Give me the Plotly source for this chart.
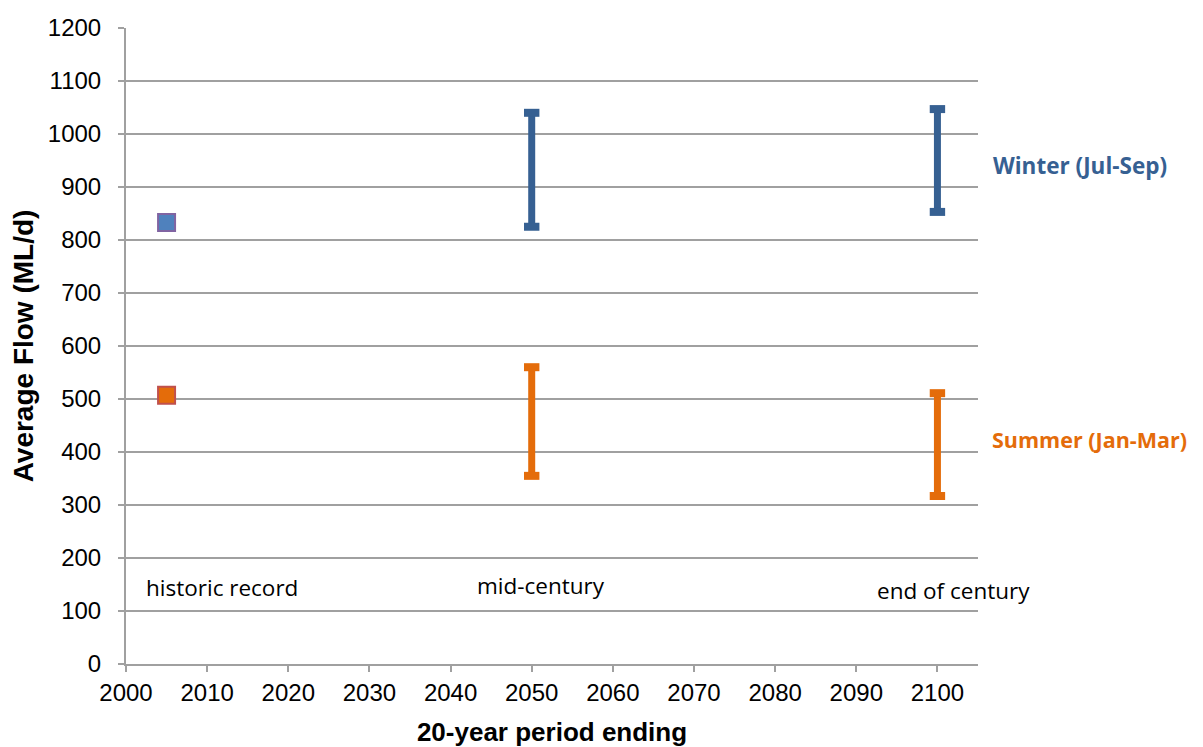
import plotly.graph_objects as go

# Data
hist_year = [2005]
hist_winter = [833]
hist_summer = [507]

proj_years = [2050, 2100]
winter_low = [825, 853]
winter_high = [1040, 1047]
summer_low = [355, 317]
summer_high = [560, 511]

period_labels = ["historic record", "mid-century", "end of century"]
period_label_x = [2011.8, 2051.2, 2102]
period_label_y = [145, 149, 138]

series_labels = ["Winter (Jul-Sep)", "Summer (Jan-Mar)"]

WINTER = "#366092"
SUMMER = "#E46C0A"
GRID = "#A0A0A0"

def range_xy(years, lo, hi):
    xs, ys = [], []
    for yr, a, b in zip(years, lo, hi):
        xs += [yr, yr, None]
        ys += [a, b, None]
    return xs, ys

fig = go.Figure()

wx, wy = range_xy(proj_years, winter_low, winter_high)
sx, sy = range_xy(proj_years, summer_low, summer_high)

for xs, ys, col in [(wx, wy, WINTER), (sx, sy, SUMMER)]:
    fig.add_trace(go.Scatter(x=xs, y=ys, mode="lines", line=dict(color=col, width=7),
                             connectgaps=False, hoverinfo="skip", showlegend=False))
    cx = [v for v in xs if v is not None]
    cy = [v for v in ys if v is not None]
    fig.add_trace(go.Scatter(x=cx, y=cy, mode="markers",
                             marker=dict(symbol="line-ew", size=11, line=dict(color=col, width=8)),
                             showlegend=False))

fig.add_trace(go.Scatter(x=hist_year, y=hist_winter, mode="markers",
                         marker=dict(symbol="square", size=17, color="#4F81BD",
                                     line=dict(color="#8064A2", width=2)), showlegend=False))
fig.add_trace(go.Scatter(x=hist_year, y=hist_summer, mode="markers",
                         marker=dict(symbol="square", size=17, color=SUMMER,
                                     line=dict(color="#C0504D", width=2)), showlegend=False))

for txt, x, y in zip(period_labels, period_label_x, period_label_y):
    fig.add_annotation(x=x, y=y, text=txt, showarrow=False, xref="x", yref="y",
                       font=dict(family="Open Sans, Lato, sans-serif", size=22.5, color="black"),
                       bgcolor="white")

fig.add_annotation(x=1.015, xref="paper", y=940, yref="y", text="<b>" + series_labels[0] + "</b>",
                   showarrow=False, xanchor="left",
                   font=dict(family="Open Sans, Lato, sans-serif", size=22.5, color=WINTER))
fig.add_annotation(x=1.014, xref="paper", y=423, yref="y", text="<b>" + series_labels[1] + "</b>",
                   showarrow=False, xanchor="left",
                   font=dict(family="Open Sans, Lato, sans-serif", size=21.5, color=SUMMER))

fig.update_layout(
    width=1203, height=747,
    margin=dict(l=118, r=233, t=20, b=91),
    plot_bgcolor="white", paper_bgcolor="white",
    font=dict(family="Arial, Liberation Sans, sans-serif", size=24, color="black"),
)
fig.update_xaxes(range=[2000, 2105], tickvals=list(range(2000, 2101, 10)),
                 showgrid=False, showline=True, linecolor=GRID, linewidth=2,
                 ticks="outside", ticklen=6, tickcolor=GRID, tickwidth=2,
                 zeroline=False, tickfont=dict(size=24), automargin=False,
                 title=dict(text="<b>20-year period ending</b>", font=dict(size=26), standoff=18))
fig.update_yaxes(range=[0, 1200], tickvals=list(range(0, 1201, 100)),
                 showgrid=True, gridcolor=GRID, gridwidth=1.5,
                 showline=True, linecolor=GRID, linewidth=2,
                 ticks="outside", ticklen=6, tickcolor=GRID, tickwidth=2,
                 ticklabelstandoff=12,
                 zeroline=False, tickfont=dict(size=24), automargin=False,
                 title=dict(text="<b>Average Flow (ML/d)</b>", font=dict(size=28), standoff=10))

fig.write_html("out.html")
